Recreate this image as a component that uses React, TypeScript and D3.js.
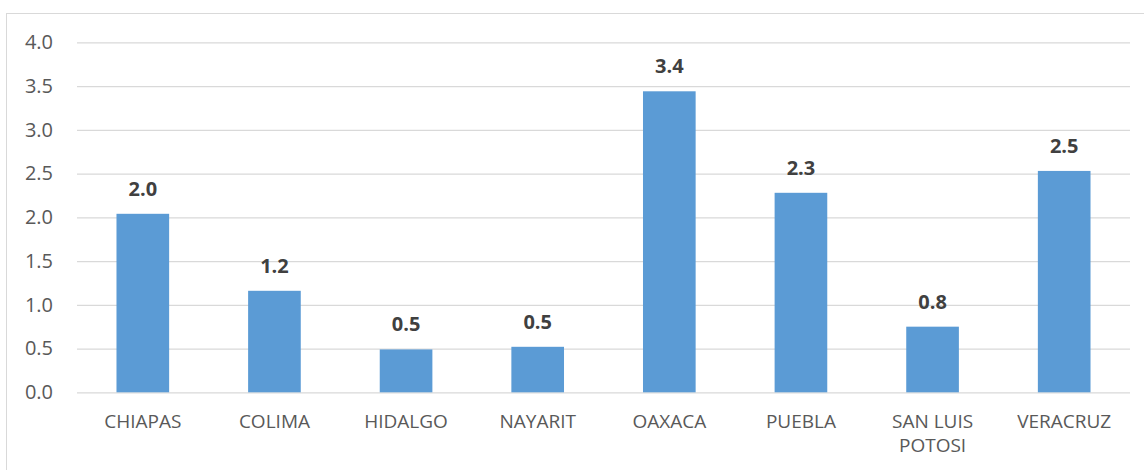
import React, { useEffect, useRef } from 'react';
import * as d3 from 'd3';

const states = ['CHIAPAS', 'COLIMA', 'HIDALGO', 'NAYARIT', 'OAXACA', 'PUEBLA', 'SAN LUIS POTOSI', 'VERACRUZ'];
const values = [2.04, 1.16, 0.49, 0.52, 3.44, 2.28, 0.75, 2.53];
const yTicks = [0, 0.5, 1, 1.5, 2, 2.5, 3, 3.5, 4];

const App = () => {
  const ref = useRef<SVGSVGElement>(null);

  useEffect(() => {
    const svg = d3.select(ref.current);
    svg.selectAll('*').remove();

    const width = 1144;
    const height = 470;
    const left = 77;
    const right = 1130;
    const top = 42.3;
    const bottom = 392.3;

    // chart frame (runs off the right and bottom edge in the reference)
    svg.append('rect')
      .attr('x', 6.5).attr('y', 13.5)
      .attr('width', width).attr('height', height)
      .attr('fill', 'white')
      .attr('stroke', '#d9d9d9');

    const x = d3.scaleBand()
      .domain(states)
      .range([left, right])
      .paddingInner(0.6)
      .paddingOuter(0.3);

    const y = d3.scaleLinear().domain([0, 4]).range([bottom, top]);

    // gridlines + y labels
    const yAxis = svg.append('g')
      .attr('transform', `translate(${left},0)`)
      .call(d3.axisLeft(y).tickValues(yTicks).tickFormat(d3.format('.1f')).tickSize(-(right - left)).tickPadding(24));
    yAxis.select('.domain').remove();
    yAxis.selectAll('.tick line').attr('stroke', '#d9d9d9').attr('stroke-width', 1.3);
    yAxis.selectAll('.tick text')
      .attr('fill', '#595959')
      .attr('font-size', 20)
      .attr('font-family', '"Open Sans", sans-serif');

    // bars
    svg.selectAll('.bar')
      .data(values)
      .enter()
      .append('rect')
      .attr('class', 'bar')
      .attr('x', (d, i) => x(states[i]) as number)
      .attr('y', d => y(d))
      .attr('width', x.bandwidth())
      .attr('height', d => bottom - y(d))
      .attr('fill', '#5b9bd5');

    // value labels
    svg.selectAll('.val')
      .data(values)
      .enter()
      .append('text')
      .attr('class', 'val')
      .attr('x', (d, i) => (x(states[i]) as number) + x.bandwidth() / 2)
      .attr('y', d => y(d) - 18)
      .attr('text-anchor', 'middle')
      .attr('font-family', '"Open Sans", sans-serif')
      .attr('font-weight', 'bold')
      .attr('font-size', 20)
      .attr('fill', '#404040')
      .text(d => d3.format('.1f')(d));

    // category labels, SAN LUIS POTOSI wraps onto two lines
    const xAxis = svg.append('g')
      .attr('transform', `translate(0,${bottom})`)
      .call(d3.axisBottom(x).tickSize(0).tickPadding(0));
    xAxis.select('.domain').remove();
    xAxis.selectAll('.tick text').remove();
    xAxis.selectAll('.tick')
      .append('text')
      .attr('fill', '#595959')
      .attr('font-size', 19)
      .attr('font-family', '"Open Sans", sans-serif')
      .attr('text-anchor', 'middle')
      .each(function (d: any) {
        const lines = d === 'SAN LUIS POTOSI' ? ['SAN LUIS', 'POTOSI'] : [d];
        const t = d3.select(this);
        lines.forEach((l, i) => {
          t.append('tspan').attr('x', 0).attr('y', 35.5 + i * 24.7).text(l);
        });
      });
  }, []);

  return (
    <div style={{ position: 'absolute', left: 0, top: 0 }}>
      <svg ref={ref} width={1144} height={470} style={{ display: 'block' }} />
    </div>
  );
};

export default App;
